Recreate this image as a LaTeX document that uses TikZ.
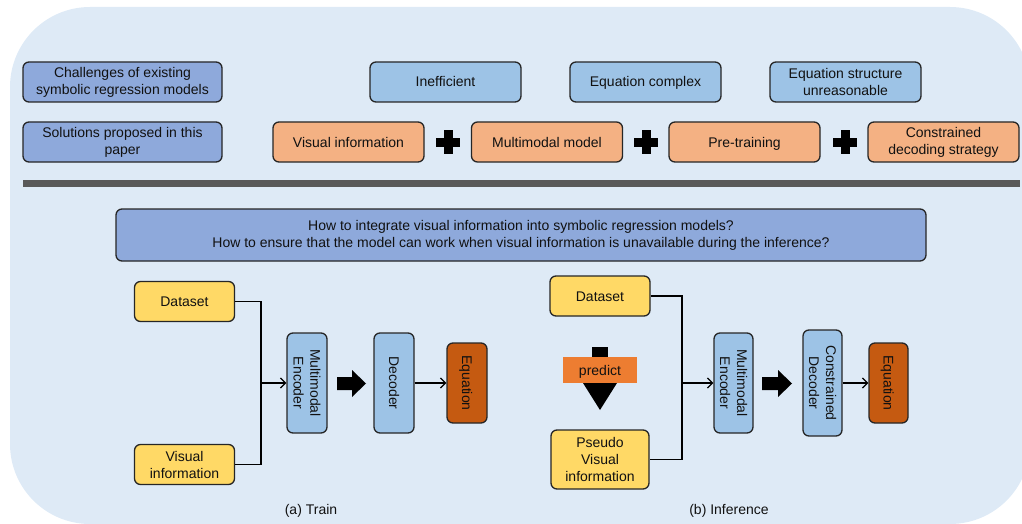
\documentclass[tikz,border=0pt]{standalone}
\usepackage{fontspec}
\setmainfont{Liberation Sans}
\usetikzlibrary{arrows.meta,calc}
\definecolor{bgc}{HTML}{DEEAF6}
\definecolor{hdrc}{HTML}{8EA9DB}
\definecolor{lbc}{HTML}{9DC3E6}
\definecolor{orc}{HTML}{F4B183}
\definecolor{ylc}{HTML}{FFD966}
\definecolor{eqc}{HTML}{C55A11}
\definecolor{prc}{HTML}{ED7D31}
\definecolor{sepc}{HTML}{595959}
\definecolor{bdc}{HTML}{262626}
\definecolor{txc}{HTML}{111111}
\tikzset{
  box/.style={draw=bdc, line width=1.3pt, rounded corners=6pt, align=center, inner sep=0pt, text=txc},
  oneline/.style={text height=10pt, text depth=0pt},
  hdrbox/.style={box, fill=hdrc},
  lbbox/.style={box, fill=lbc},
  orbox/.style={box, fill=orc, minimum width=151, minimum height=40},
  ylbox/.style={box, fill=ylc},
  eqbox/.style={box, fill=eqc, rotate=-90},
  vbox/.style={box, fill=lbc, rotate=-90},
  conn/.style={draw=black, line width=1.3pt, -{Straight Barb[length=5pt,width=10pt,line width=1.3pt]}},
  wire/.style={draw=black, line width=1.3pt},
  lbl/.style={text=txc}
}
\begin{document}
\begin{tikzpicture}[x=1pt,y=-1pt,font=\fontsize{14}{17}\selectfont]
\useasboundingbox (0,0) rectangle (1022,524);
\clip (0,0) rectangle (1022,524);
\fill[bgc, rounded corners=80pt] (10,7) rectangle (1030,524);

% top rows
\node[hdrbox, minimum width=199, minimum height=40] (ch) at (122.5,82) {Challenges of existing\\symbolic regression models};
\node[hdrbox, minimum width=199, minimum height=40] (so) at (122.5,142) {Solutions proposed in this\\paper};
\node[lbbox, oneline, minimum width=151, minimum height=40] (c1) at (445.5,82) {Inefficient};
\node[lbbox, oneline, minimum width=151, minimum height=40] (c2) at (645.5,82) {Equation complex};
\node[lbbox, minimum width=151, minimum height=40] (c3) at (845.5,82) {Equation structure\\unreasonable};
\node[orbox, oneline] (s1) at (348.5,142) {Visual information};
\node[orbox, oneline] (s2) at (547,142) {Multimodal model};
\node[orbox, oneline] (s3) at (744.5,142) {Pre-training};
\node[orbox] (s4) at (943.5,142) {Constrained\\decoding strategy};
\foreach \px in {448,646,845} {
  \fill[black] (\px-12,137.5) rectangle (\px+12,146.5);
  \fill[black] (\px-4.5,130) rectangle (\px+4.5,154);
}
\fill[sepc] (23,180) rectangle (1020,187);

% question
\node[hdrbox, minimum width=810, minimum height=52] (q) at (521,235) {How to integrate visual information into symbolic regression models?\\How to ensure that the model can work when visual information is unavailable during the inference?};

% train
\node[ylbox, oneline, minimum width=100, minimum height=40] (ds1) at (184.5,301.5) {Dataset};
\node[ylbox, minimum width=100, minimum height=40] (vi1) at (184.5,464.5) {Visual\\information};
\coordinate (j1) at (261,383);
\node[vbox, minimum width=100, minimum height=40] (enc1) at (307,383) {Multimodal\\Encoder};
\node[vbox, oneline, minimum width=100, minimum height=40] (dec1) at (394,383) {Decoder};
\node[eqbox, oneline, minimum width=80, minimum height=40] (eq1) at (467,383) {Equation};
\draw[wire] (ds1.east) -| (j1) |- (vi1.east);
\draw[conn] (j1) -- (enc1);
\fill[black] (337,377) -- (352,377) -- (352,370) -- (366,383.5) -- (352,397) -- (352,390) -- (337,390) -- cycle;
\draw[conn] (dec1) -- (eq1);
\node[lbl] (ta) at (311,511) {(a) Train};

% inference
\node[ylbox, oneline, minimum width=100, minimum height=40] (ds2) at (600,296) {Dataset};
\node[ylbox, minimum width=98, minimum height=59] (pv) at (600,459.5) {Pseudo\\Visual\\information};
\coordinate (j2) at (682,383);
\node[vbox, minimum width=100, minimum height=39] (enc2) at (733.5,383) {Multimodal\\Encoder};
\node[vbox, minimum width=106, minimum height=39] (dec2) at (822.5,383) {Constrained\\Decoder};
\node[eqbox, oneline, minimum width=80, minimum height=39] (eq2) at (888.5,383) {Equation};
\draw[wire] (ds2.east) -| (j2) |- (pv.east);
\draw[conn] (j2) -- (enc2);
\fill[black] (762,377) -- (778,377) -- (778,370) -- (792,383.5) -- (778,397) -- (778,390) -- (762,390) -- cycle;
\draw[conn] (dec2) -- (eq2);
\fill[black] (592,347) rectangle (608,384);
\fill[black] (583,383) -- (617,383) -- (600,410) -- cycle;
\node[fill=prc, oneline, minimum width=74, minimum height=26, inner sep=0pt, text=txc] (pr) at (600,370) {predict};
\node[lbl] (ib) at (729,511) {(b) Inference};
\end{tikzpicture}
\end{document}
